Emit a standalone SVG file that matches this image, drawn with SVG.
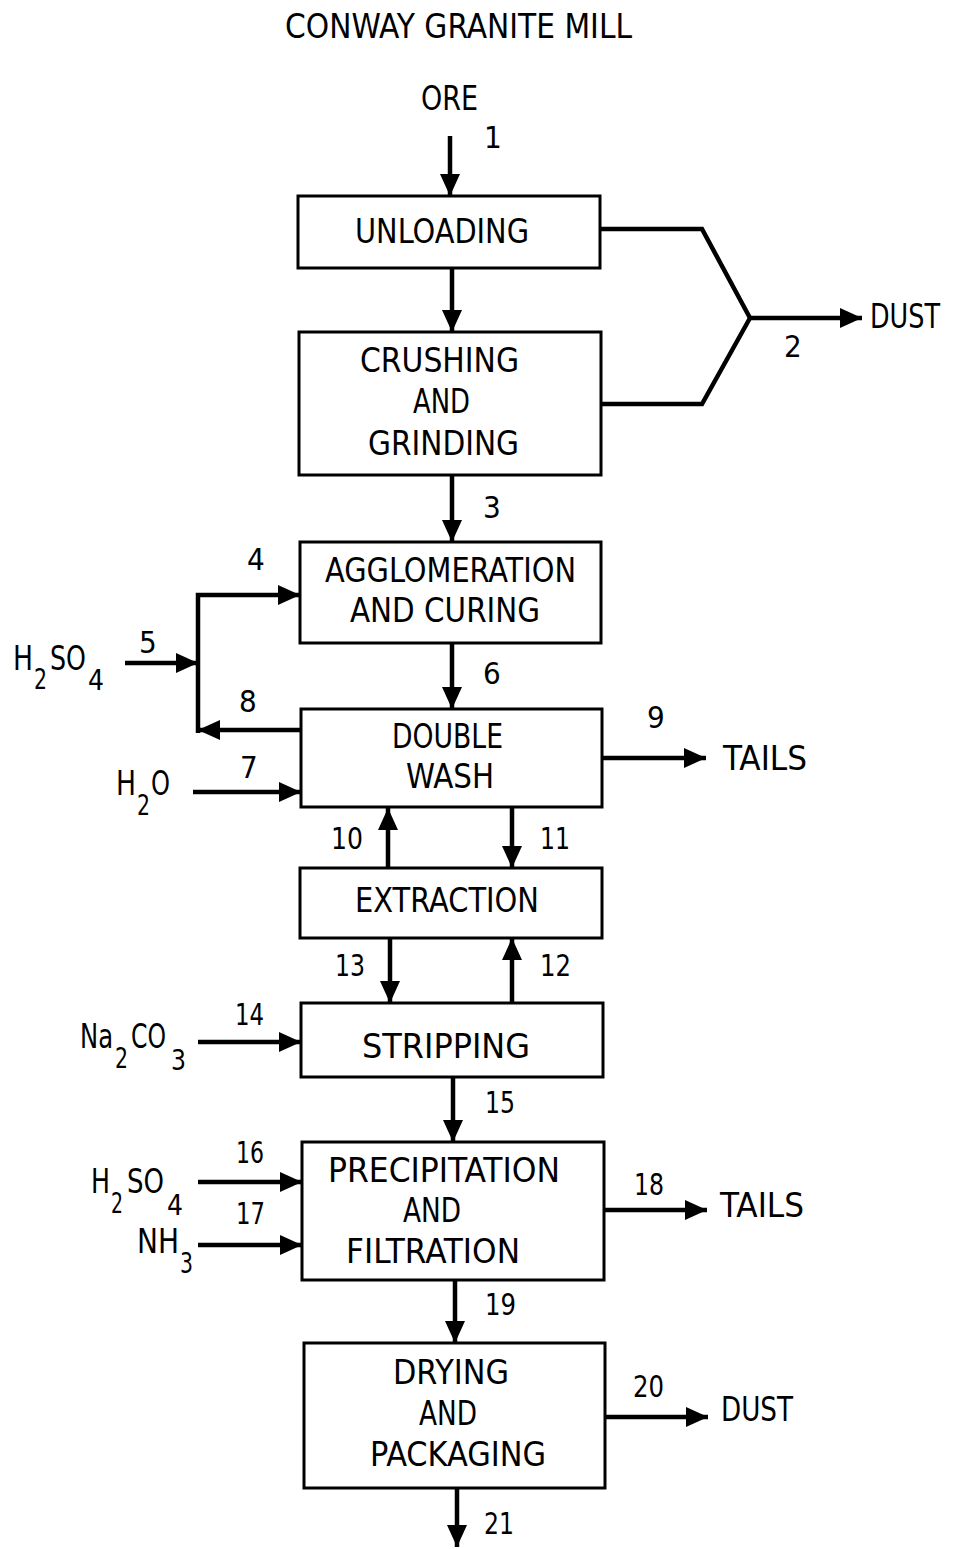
<svg xmlns="http://www.w3.org/2000/svg" width="953" height="1549" viewBox="0 0 953 1549">
<style>
text{font-family:"Liberation Sans Narrow","DejaVu Sans Condensed","Liberation Sans",sans-serif;fill:#000}
.t{font-size:34px}
.n{font-size:31px}
.s{font-size:28px}
.box{fill:#fff;stroke:#000;stroke-width:3}
.c{fill:none;stroke:#000;stroke-width:4.5}
.a{marker-end:url(#ah)}
</style>
<defs>
<marker id="ah" markerUnits="userSpaceOnUse" markerWidth="24" markerHeight="22" refX="22" refY="11" orient="auto">
<path d="M0,1 L22,11 L0,21 z" fill="#000"/>
</marker>
</defs>
<text class="t" x="285" y="38" textLength="347" lengthAdjust="spacingAndGlyphs">CONWAY GRANITE MILL</text>
<g id="connectors">
<line class="c a" x1="450" y1="136" x2="450" y2="196"/>
<line class="c a" x1="452" y1="269" x2="452" y2="332"/>
<polyline class="c" points="600,229 702,229 750,318"/>
<polyline class="c" points="601,404 702,404 750,318"/>
<line class="c a" x1="750" y1="318" x2="862" y2="318"/>
<line class="c a" x1="452" y1="475" x2="452" y2="542"/>
<polyline class="c a" points="198,733 198,595 300,595"/>
<line class="c a" x1="125" y1="663" x2="198" y2="663"/>
<line class="c a" x1="300" y1="730" x2="198" y2="730"/>
<line class="c a" x1="452" y1="643" x2="452" y2="709"/>
<line class="c a" x1="193" y1="792" x2="301" y2="792"/>
<line class="c a" x1="602" y1="758" x2="706" y2="758"/>
<line class="c a" x1="388" y1="868" x2="388" y2="808"/>
<line class="c a" x1="512" y1="808" x2="512" y2="868"/>
<line class="c a" x1="390" y1="938" x2="390" y2="1003"/>
<line class="c a" x1="512" y1="1003" x2="512" y2="938"/>
<line class="c a" x1="198" y1="1042" x2="301" y2="1042"/>
<line class="c a" x1="453" y1="1077" x2="453" y2="1142"/>
<line class="c a" x1="198" y1="1182" x2="302" y2="1182"/>
<line class="c a" x1="198" y1="1245" x2="302" y2="1245"/>
<line class="c a" x1="605" y1="1210" x2="707" y2="1210"/>
<line class="c a" x1="455" y1="1280" x2="455" y2="1343"/>
<line class="c a" x1="606" y1="1417" x2="708" y2="1417"/>
<line class="c a" x1="457" y1="1488" x2="457" y2="1547"/>
</g>
<g id="labels">
<text class="t" x="421" y="110" textLength="57" lengthAdjust="spacingAndGlyphs">ORE</text>
<text class="n" x="484" y="148">1</text>
<text class="t" x="870" y="328" textLength="70" lengthAdjust="spacingAndGlyphs">DUST</text>
<text class="n" x="784" y="357">2</text>
<text class="n" x="483" y="518">3</text>
<text class="n" x="247" y="570">4</text>
<text class="n" x="139" y="653">5</text>
<text class="n" x="483" y="684">6</text>
<text class="n" x="239" y="712">8</text>
<text class="n" x="240" y="778">7</text>
<text class="n" x="647" y="728">9</text>
<text class="t" x="723" y="770" textLength="84" lengthAdjust="spacingAndGlyphs">TAILS</text>
<text class="n" x="331" y="849" textLength="32" lengthAdjust="spacingAndGlyphs">10</text>
<text class="n" x="540" y="849" textLength="30" lengthAdjust="spacingAndGlyphs">11</text>
<text class="n" x="335" y="976" textLength="30" lengthAdjust="spacingAndGlyphs">13</text>
<text class="n" x="540" y="976" textLength="31" lengthAdjust="spacingAndGlyphs">12</text>
<text class="n" x="235" y="1025" textLength="29" lengthAdjust="spacingAndGlyphs">14</text>
<text class="n" x="485" y="1113" textLength="30" lengthAdjust="spacingAndGlyphs">15</text>
<text class="n" x="236" y="1163" textLength="28" lengthAdjust="spacingAndGlyphs">16</text>
<text class="n" x="236" y="1224" textLength="29" lengthAdjust="spacingAndGlyphs">17</text>
<text class="n" x="634" y="1195" textLength="30" lengthAdjust="spacingAndGlyphs">18</text>
<text class="t" x="720" y="1217" textLength="84" lengthAdjust="spacingAndGlyphs">TAILS</text>
<text class="n" x="485" y="1315" textLength="31" lengthAdjust="spacingAndGlyphs">19</text>
<text class="n" x="633" y="1397" textLength="31" lengthAdjust="spacingAndGlyphs">20</text>
<text class="t" x="721" y="1421" textLength="72" lengthAdjust="spacingAndGlyphs">DUST</text>
<text class="n" x="484" y="1534" textLength="30" lengthAdjust="spacingAndGlyphs">21</text>
<text class="t" y="670"><tspan x="13" textLength="20" lengthAdjust="spacingAndGlyphs">H</tspan><tspan class="s" x="34" dy="19" textLength="13" lengthAdjust="spacingAndGlyphs">2</tspan><tspan x="50" dy="-19" textLength="36" lengthAdjust="spacingAndGlyphs">SO</tspan><tspan class="s" x="88" dy="20" textLength="16" lengthAdjust="spacingAndGlyphs">4</tspan></text>
<text class="t" y="795"><tspan x="116" textLength="20" lengthAdjust="spacingAndGlyphs">H</tspan><tspan class="s" x="137" dy="20" textLength="13" lengthAdjust="spacingAndGlyphs">2</tspan><tspan x="151" dy="-20" textLength="19" lengthAdjust="spacingAndGlyphs">O</tspan></text>
<text class="t" y="1048"><tspan x="80" textLength="33" lengthAdjust="spacingAndGlyphs">Na</tspan><tspan class="s" x="115" dy="20" textLength="13" lengthAdjust="spacingAndGlyphs">2</tspan><tspan x="131" dy="-20" textLength="35" lengthAdjust="spacingAndGlyphs">CO</tspan><tspan class="s" x="171" dy="22" textLength="15" lengthAdjust="spacingAndGlyphs">3</tspan></text>
<text class="t" y="1193"><tspan x="91" textLength="19" lengthAdjust="spacingAndGlyphs">H</tspan><tspan class="s" x="111" dy="20" textLength="12" lengthAdjust="spacingAndGlyphs">2</tspan><tspan x="127" dy="-20" textLength="37" lengthAdjust="spacingAndGlyphs">SO</tspan><tspan class="s" x="167" dy="22" textLength="16" lengthAdjust="spacingAndGlyphs">4</tspan></text>
<text class="t" y="1253"><tspan x="137" textLength="42" lengthAdjust="spacingAndGlyphs">NH</tspan><tspan class="s" x="180" dy="20" textLength="13" lengthAdjust="spacingAndGlyphs">3</tspan></text>
</g>
<g id="unloading">
<rect class="box" x="298" y="196" width="302" height="72"/>
<text class="t" x="355" y="243" textLength="174" lengthAdjust="spacingAndGlyphs">UNLOADING</text>
</g>
<g id="crushing">
<rect class="box" x="299" y="332" width="302" height="143"/>
<text class="t" x="360" y="372" textLength="159" lengthAdjust="spacingAndGlyphs">CRUSHING</text>
<text class="t" x="413" y="413" textLength="57" lengthAdjust="spacingAndGlyphs">AND</text>
<text class="t" x="368" y="455" textLength="151" lengthAdjust="spacingAndGlyphs">GRINDING</text>
</g>
<g id="agglomeration">
<rect class="box" x="300" y="542" width="301" height="101"/>
<text class="t" x="325" y="582" textLength="251" lengthAdjust="spacingAndGlyphs">AGGLOMERATION</text>
<text class="t" x="350" y="622" textLength="190" lengthAdjust="spacingAndGlyphs">AND CURING</text>
</g>
<g id="doublewash">
<rect class="box" x="301" y="709" width="301" height="98"/>
<text class="t" x="392" y="748" textLength="111" lengthAdjust="spacingAndGlyphs">DOUBLE</text>
<text class="t" x="406" y="788" textLength="88" lengthAdjust="spacingAndGlyphs">WASH</text>
</g>
<g id="extraction">
<rect class="box" x="300" y="868" width="302" height="70"/>
<text class="t" x="355" y="912" textLength="184" lengthAdjust="spacingAndGlyphs">EXTRACTION</text>
</g>
<g id="stripping">
<rect class="box" x="301" y="1003" width="302" height="74"/>
<text class="t" x="362" y="1058" textLength="168" lengthAdjust="spacingAndGlyphs">STRIPPING</text>
</g>
<g id="precipitation">
<rect class="box" x="302" y="1142" width="302" height="138"/>
<text class="t" x="328" y="1182" textLength="232" lengthAdjust="spacingAndGlyphs">PRECIPITATION</text>
<text class="t" x="403" y="1222" textLength="58" lengthAdjust="spacingAndGlyphs">AND</text>
<text class="t" x="346" y="1263" textLength="174" lengthAdjust="spacingAndGlyphs">FILTRATION</text>
</g>
<g id="drying">
<rect class="box" x="304" y="1343" width="301" height="145"/>
<text class="t" x="393" y="1384" textLength="116" lengthAdjust="spacingAndGlyphs">DRYING</text>
<text class="t" x="419" y="1425" textLength="58" lengthAdjust="spacingAndGlyphs">AND</text>
<text class="t" x="370" y="1466" textLength="176" lengthAdjust="spacingAndGlyphs">PACKAGING</text>
</g>
</svg>
